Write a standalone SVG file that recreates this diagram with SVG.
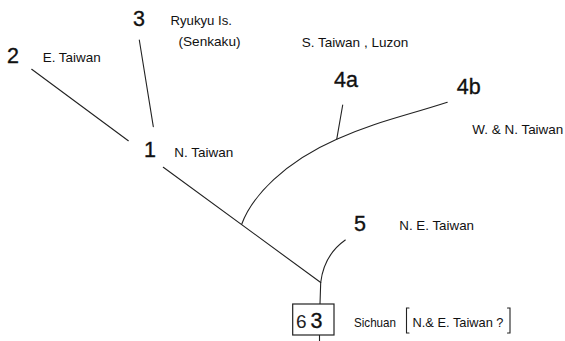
<svg xmlns="http://www.w3.org/2000/svg" width="565" height="341" viewBox="0 0 565 341">
<style>
.num{font-family:"Liberation Sans",Arial,sans-serif;font-size:21.5px;fill:#111;stroke:#111;stroke-width:0.35}
.lbl{font-family:"Liberation Sans",Arial,sans-serif;font-size:13px;fill:#111}
.ln{fill:none;stroke:#222;stroke-width:1.1;stroke-linecap:round}
</style>
<rect width="565" height="341" fill="#fff"/>
<g id="connectors">
<line class="ln" x1="31.7" y1="69.3" x2="128.3" y2="140.7"/>
<line class="ln" x1="139.3" y1="40" x2="153.3" y2="126.7"/>
<line class="ln" x1="163.3" y1="167.3" x2="320.7" y2="282.5"/>
<path class="ln" d="M241.7,224.3 C252,196 285,162 336.7,139.3 C375,122 405,116 447.3,102.3"/>
<line class="ln" x1="336.7" y1="139.3" x2="342.7" y2="105"/>
<path class="ln" d="M320.7,282.5 Q324,255 345.3,240"/>
<line class="ln" x1="320.7" y1="282.5" x2="320" y2="304"/>
<line class="ln" x1="319.5" y1="335" x2="319.5" y2="341"/>
</g>
<g id="node2">
<text class="num" x="7" y="63">2</text>
<text class="lbl" x="42.7" y="62" textLength="58" lengthAdjust="spacingAndGlyphs">E. Taiwan</text>
</g>
<g id="node3">
<text class="num" x="133" y="26">3</text>
<text class="lbl" x="170.5" y="25" textLength="61.5" lengthAdjust="spacingAndGlyphs">Ryukyu Is.</text>
<text class="lbl" x="178.5" y="45.5" textLength="62" lengthAdjust="spacingAndGlyphs">(Senkaku)</text>
</g>
<g id="node1">
<text class="num" x="144" y="157">1</text>
<text class="lbl" x="174.3" y="157.3" textLength="59" lengthAdjust="spacingAndGlyphs">N. Taiwan</text>
</g>
<g id="node4a">
<text class="lbl" x="301.7" y="47.3" textLength="106.6" lengthAdjust="spacingAndGlyphs">S. Taiwan , Luzon</text>
<text class="num" x="334" y="86.7">4a</text>
</g>
<g id="node4b">
<text class="num" x="456.7" y="94">4b</text>
<text class="lbl" x="472.3" y="134.3" textLength="91" lengthAdjust="spacingAndGlyphs">W. &amp; N. Taiwan</text>
</g>
<g id="node5">
<text class="num" x="354" y="230.7">5</text>
<text class="lbl" x="399.3" y="230" textLength="74.7" lengthAdjust="spacingAndGlyphs">N. E. Taiwan</text>
</g>
<g id="root">
<rect x="292.7" y="304" width="41.3" height="31" fill="#fff" stroke="#222" stroke-width="1.2"/>
<text x="296" y="328" font-family="'Liberation Sans',sans-serif" font-size="19" fill="#222">6</text>
<text class="num" x="310.5" y="328" font-size="23">3</text>
<text class="lbl" x="354" y="327" textLength="42" lengthAdjust="spacingAndGlyphs">Sichuan</text>
<path class="ln" d="M409,308 H406.5 V333 H409"/>
<text class="lbl" x="412.5" y="327" textLength="91" lengthAdjust="spacingAndGlyphs">N.&amp; E. Taiwan ?</text>
<path class="ln" d="M507.5,308 H510 V333 H507.5"/>
</g>
</svg>
